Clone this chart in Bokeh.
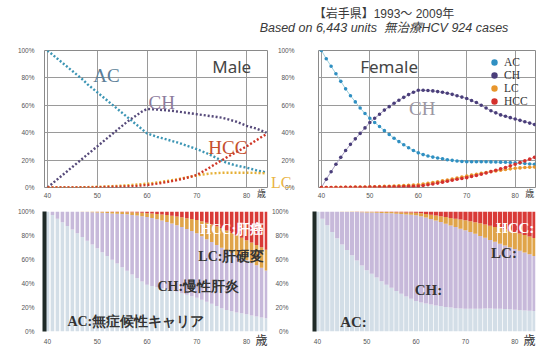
import numpy as np
from bokeh.plotting import figure
from bokeh.layouts import column, row
from bokeh.models import (Div, Label, Legend, LegendItem, PrintfTickFormatter,
                          FixedTicker, Range1d, LinearAxis)
from bokeh.embed import file_html
from bokeh.resources import INLINE

# ---- data: share of patients (%) in each disease state by age ----
ages = list(range(40, 85))

male_ac = [100, 97, 94, 91, 88, 85, 82, 79, 75.5, 72.5, 69.5, 66.5, 63.5, 60.5, 57.5,
           54.5, 51.5, 48.5, 45.5, 42.5, 39.5, 38.3, 37, 36, 35, 34, 33, 31.8, 30.5, 29.3,
           28, 26.5, 25, 23.3, 21.5, 19.7, 18, 17, 16, 15.2, 14.5, 13.5, 12.5, 11.8, 11]
male_ch = [0, 3, 6, 9, 12, 15, 18, 21, 24, 27, 30, 33, 36, 39, 42,
           45, 48, 50.5, 53, 55.5, 57.3, 57.1, 56.9, 56.6, 56.3, 56, 55.5, 55, 54.5, 54,
           53.5, 53, 52.5, 52, 51.5, 51, 50, 49, 48, 46.5, 45, 44, 43, 41.5, 40]
male_lc = [0, 0, 0, 0, 0, 0, 0.1, 0.2, 0.3, 0.4, 0.5, 0.6, 0.8, 1, 1.2,
           1.4, 1.6, 1.9, 2.2, 2.5, 2.8, 3.2, 3.7, 4.2, 4.8, 5.4, 6, 6.7, 7.4, 8.1,
           8.8, 9.4, 9.9, 10.3, 10.5, 10.7, 10.8, 10.8, 10.8, 10.8, 10.8, 10.7, 10.6, 10.5, 10.4]
male_hcc = [0, 0, 0, 0, 0, 0, 0, 0, 0, 0.1, 0.2, 0.3, 0.4, 0.5, 0.6,
            0.7, 0.8, 1, 1.2, 1.5, 1.8, 2.3, 2.8, 3.4, 4, 4.7, 5.4, 6.2, 7.1, 8.1,
            9.2, 11.2, 13.3, 15.5, 17.7, 19.9, 22, 24, 26, 28, 30, 32.3, 34.6, 36.8, 39]

# male LC / HCC split as shown in the stacked-share panel
male_share_lc = [0, 0, 0, 0, 0, 0, 0.1, 0.2, 0.3, 0.5, 0.6, 0.8, 1, 1.2, 1.5,
                 1.6, 1.8, 2.2, 2.5, 2.9, 3.2, 3.8, 4.4, 5.1, 5.8, 6.6, 7.3, 8.1, 9, 10,
                 11, 12.4, 13.7, 14.8, 15.7, 16.6, 16.8, 16.8, 16.8, 16.8, 16.8, 17, 17.1,
                 17.2, 17.4]
male_share_hcc = [0, 0, 0, 0, 0, 0, 0, 0, 0, 0.1, 0.2, 0.3, 0.3, 0.4, 0.4,
                  0.5, 0.6, 0.7, 0.9, 1.1, 1.4, 1.7, 2.1, 2.5, 3, 3.5, 4.1, 4.8, 5.5, 6.2,
                  7, 8.2, 9.5, 11, 12.5, 14, 16, 18, 20, 22, 24, 26, 28, 30, 32]

female_ac = [100, 94, 88.5, 83, 77.5, 72, 67, 62.5, 58, 54, 50.5, 47.5, 44.5, 41.5, 38.7,
             36, 33.5, 31.2, 29, 27, 25.3, 24, 23, 22.2, 21.5, 21, 20.3, 19.8, 19.3, 19,
             18.8, 18.8, 18.8, 18.8, 18.8, 18.7, 18.6, 18.5, 18.4, 18.2, 18, 17.8, 17.5, 17.2, 17]
female_ch = [0, 6, 11.5, 17, 22, 27, 31.5, 35.5, 39.5, 43.5, 47.5, 50.5, 53.5, 56.5, 59,
             61.5, 63.7, 65.8, 67.8, 69.5, 71, 71, 70.8, 70.5, 70, 69.5, 68.8, 68, 67, 66,
             65, 63.5, 62, 60, 58, 56, 54.5, 53, 52, 51, 50, 49, 48, 47, 46]
female_lc = [0, 0, 0, 0.1, 0.1, 0.2, 0.2, 0.3, 0.3, 0.4, 0.5, 0.6, 0.7, 0.8, 0.9,
             1, 1.2, 1.4, 1.6, 1.8, 2, 2.5, 3, 3.6, 4.2, 4.8, 5.5, 6.2, 6.9, 7.6,
             8.3, 9, 9.7, 10.4, 11, 11.6, 12.1, 12.6, 13.1, 13.6, 14, 14.3, 14.6, 14.8, 15]
female_hcc = [0, 0, 0, 0, 0, 0.1, 0.1, 0.1, 0.2, 0.2, 0.3, 0.3, 0.4, 0.4, 0.5,
              0.5, 0.6, 0.7, 0.8, 0.9, 1, 1.5, 2, 2.6, 3.2, 3.9, 4.6, 5.3, 6, 6.6,
              7.2, 8, 8.8, 9.7, 10.6, 11.6, 12.6, 13.6, 14.6, 15.8, 17, 18.2, 19.4, 20.7, 22]

x_ticks = [40, 50, 60, 70, 80]
y_ticks = [0, 20, 40, 60, 80, 100]
age_unit_tick = 83          # where the "歳" unit mark sits on the age axis
lc_tag_level = 4            # height (%) of the male LC tag beside the chart

SERIF = "Liberation Serif"
LINE_COLORS = {"AC": "#3c95b4", "CH": "#564a7a", "LC": "#e6b036", "HCC": "#cf3526"}
DOT_COLORS = {"AC": "#2f8fc2", "CH": "#4a3e7a", "LC": "#e8962c", "HCC": "#d4302c"}
THIN_COLORS = {"AC": "#9fd0dc", "CH": "#a79fc0", "LC": "#f2c98a", "HCC": "#e99a9a"}
BAND_COLORS = {"AC": "#d3dee7", "CH": "#c7b9da", "LC": "#e0a449", "HCC": "#d93a37"}


def base_figure(height, top, bottom, ylabel_gap):
    p = figure(width=268, height=height, x_range=Range1d(39.4, 84.2),
               y_range=Range1d(0, 100), min_border_left=44, min_border_right=1,
               min_border_top=top, min_border_bottom=bottom,
               output_backend="svg", toolbar_location=None)
    p.xaxis.ticker = FixedTicker(ticks=x_ticks)
    p.yaxis.ticker = FixedTicker(ticks=y_ticks)
    p.yaxis.formatter = PrintfTickFormatter(format="%d%%")
    p.axis.major_tick_line_color = None
    p.axis.major_tick_out = 0
    p.axis.major_tick_in = 0
    p.axis.minor_tick_line_color = None
    p.axis.minor_tick_out = 0
    p.axis.major_label_text_font_size = "6.5px"
    p.axis.major_label_text_color = "#555555"
    p.axis.major_label_text_font = "Liberation Sans"
    p.yaxis.major_label_standoff = ylabel_gap
    p.background_fill_color = "white"
    p.border_fill_color = "white"
    return p


def unit_axis(p, size, standoff):
    """Second age axis carrying only the unit mark, pulled up into the tick row."""
    ax = LinearAxis(ticker=FixedTicker(ticks=[age_unit_tick]),
                    major_label_overrides={age_unit_tick: "歳"},
                    axis_line_color=None, major_tick_line_color=None,
                    major_tick_out=0, major_tick_in=0, minor_tick_line_color=None,
                    minor_tick_out=0, major_label_standoff=standoff,
                    major_label_text_font_size=size, major_label_text_color="#333333",
                    major_label_text_font="Noto Sans CJK JP")
    p.add_layout(ax, "below")


def line_panel(series, dotted, ylabel_gap):
    p = base_figure(163, 10, 16, ylabel_gap)
    p.xaxis.major_label_standoff = 5
    p.axis.axis_line_color = None
    p.grid.grid_line_color = "#9a9a9a"
    p.grid.grid_line_width = 1
    p.outline_line_color = "#8a8a8a"
    dots = {}
    for name in ["AC", "CH", "LC", "HCC"]:
        vals = series[name]
        if dotted:
            p.line(ages, vals, line_color=LINE_COLORS[name], line_width=2.4,
                   line_dash="2 2")
        else:
            p.line(ages, vals, line_color=THIN_COLORS[name], line_width=1)
            dots[name] = p.scatter(ages, vals, size=3.6, fill_color=DOT_COLORS[name],
                                   line_color=None)
    unit_axis(p, "9px", -14)
    return p, dots


def stack_panel(series, bar_width, ylabel_gap):
    p = base_figure(153, 8, 25, ylabel_gap)
    p.xaxis.major_label_standoff = 7
    p.grid.grid_line_color = None
    p.outline_line_color = None
    p.xaxis.axis_line_color = None
    p.yaxis.axis_line_color = "#1f2a27"
    p.yaxis.axis_line_width = 4
    vals = np.array([series[k] for k in ["AC", "CH", "LC", "HCC"]], dtype=float)
    shares = vals / vals.sum(axis=0) * 100
    tops = np.cumsum(shares, axis=0)
    bottoms = tops - shares
    for i, name in enumerate(["AC", "CH", "LC", "HCC"]):
        p.vbar(x=ages, width=bar_width, bottom=bottoms[i], top=tops[i],
               fill_color=BAND_COLORS[name], line_color=None)
    unit_axis(p, "12px", -16)
    return p


def tag(p, x, y, text, color, size, font=SERIF, style="normal"):
    p.add_layout(Label(x=x, y=y, text=text, text_color=color, text_font=font,
                       text_font_size=size, text_baseline="middle",
                       text_font_style=style))


def legend_block(items, y):
    return Legend(items=items, location=(168, y), padding=0, margin=0, spacing=0,
                  label_height=26, glyph_height=26, glyph_width=16, label_standoff=2,
                  label_text_font=SERIF, label_text_font_size="11.5px",
                  label_text_color="#333333", background_fill_alpha=0,
                  border_line_color=None)


male = {"AC": male_ac, "CH": male_ch, "LC": male_lc, "HCC": male_hcc}
male_shares = {"AC": male_ac, "CH": male_ch, "LC": male_share_lc, "HCC": male_share_hcc}
female = {"AC": female_ac, "CH": female_ch, "LC": female_lc, "HCC": female_hcc}

# top left: male trajectories
p1, _ = line_panel(male, dotted=True, ylabel_gap=10)
tag(p1, 49.2, 81.5, "AC", "#5b7e97", "19px")
tag(p1, 60.3, 62.3, "CH", "#8c7b9c", "19px")
tag(p1, 72.3, 29.4, "HCC", "#c5502e", "19px")
tag(p1, 73.1, 88.0, "Male", "#454545", "17px", font="Noto Sans")

# top right: female trajectories
p2, female_dots = line_panel(female, dotted=False, ylabel_gap=24)
tag(p2, 48.0, 88.0, "Female", "#454545", "17px", font="Noto Sans")
tag(p2, 58.1, 58.0, "CH", "#9b97a3", "19px")
# legend rows interleaved from two blocks so the markers can stay large
p2.add_layout(legend_block([LegendItem(label=k, renderers=[female_dots[k]])
                            for k in ["AC", "LC"]], 86))
p2.add_layout(legend_block([LegendItem(label=k, renderers=[female_dots[k]])
                            for k in ["CH", "HCC"]], 73))

# the male LC curve's tag sits just past the male chart's right edge
lc_axis = LinearAxis(ticker=FixedTicker(ticks=[lc_tag_level]),
                     major_label_overrides={lc_tag_level: "LC"},
                     axis_line_color=None, major_tick_line_color=None,
                     major_tick_out=0, major_tick_in=0, minor_tick_line_color=None,
                     minor_tick_out=0, major_label_standoff=-17,
                     major_label_text_font_size="16px",
                     major_label_text_color="#e9b443", major_label_text_font=SERIF)
p2.add_layout(lc_axis, "left")

# bottom left: male stacked shares
p3 = stack_panel(male_shares, 0.72, ylabel_gap=10)
tag(p3, 70.7, 85.4, "HCC:肝癌", "white", "14px", style="bold")
tag(p3, 70.3, 62.5, "LC:肝硬変", "#333333", "14px", style="bold")
tag(p3, 62.1, 37.5, "CH:慢性肝炎", "#333333", "14px", style="bold")
tag(p3, 44.0, 8.3, "AC:無症候性キャリア", "#333333", "14px", style="bold")

# bottom right: female stacked shares
p4 = stack_panel(female, 0.85, ylabel_gap=26)
tag(p4, 76.2, 86.2, "HCC:", "white", "15px", style="bold")
tag(p4, 75.2, 65.4, "LC:", "#333333", "15px", style="bold")
tag(p4, 59.7, 35.0, "CH:", "#333333", "15px", style="bold")
tag(p4, 44.6, 8.3, "AC:", "#333333", "15px", style="bold")

header = Div(
    text=(
        '<div style="width:304px;margin-left:232px;text-align:center;color:#3a3a3a;'
        'font-family:\'Liberation Sans\',\'Noto Sans CJK JP\';">'
        '<div style="font-size:12px;line-height:13.5px;padding-top:8px;">'
        '【岩手県】1993～ 2009年</div>'
        '<div style="font-size:12.5px;line-height:13.5px;font-style:italic;">'
        'Based on 6,443 units&nbsp; 無治療HCV 924 cases</div></div>'
    ),
    width=536, height=40, margin=0,
)

layout = column(header, row(p1, p2), row(p3, p4))

with open("out.html", "w") as f:
    f.write(file_html(layout, INLINE))
